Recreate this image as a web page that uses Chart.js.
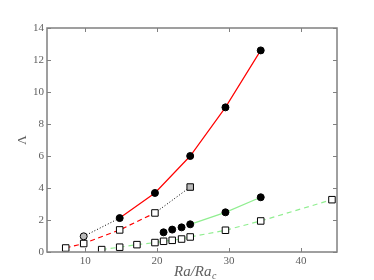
<!DOCTYPE html>
<html>
<head>
<meta charset="utf-8">
<script src="https://cdn.jsdelivr.net/npm/chart.js"></script>
<style>
  html, body { margin: 0; padding: 0; background: #fff; }
  #wrap { width: 374px; height: 280px; }
</style>
</head>
<body>
<div id="wrap"><canvas id="chart" width="374" height="280"></canvas></div>
<script>
// ===== Values =====
const xTicks = [10, 20, 30, 40];
const yTicks = [0, 2, 4, 6, 8, 10, 12, 14];

// red solid line, black circles
const raRedSolid = [14.8, 19.7, 24.6, 29.5, 34.4];
const lamRedSolid = [2.12, 3.69, 6.0, 9.04, 12.6];

// red dashed line, open squares
const raRedDash = [7.3, 9.8, 14.8, 19.7];
const lamRedDash = [0.25, 0.53, 1.38, 2.44];

// black dotted pieces (grey end markers)
const raDotA = [9.8, 14.8];
const lamDotA = [0.98, 2.12];
const raDotB = [19.7, 24.6];
const lamDotB = [2.44, 4.06];

// loose black circles
const raCircles = [20.9, 22.1, 23.4];
const lamCircles = [1.23, 1.4, 1.54];

// green solid line, black circles
const raGreenSolid = [24.6, 29.5, 34.4];
const lamGreenSolid = [1.73, 2.48, 3.42];

// green dashed line, open squares
const raGreenDash = [12.3, 14.8, 17.2, 19.7, 20.9, 22.1, 23.4, 24.6, 29.5, 34.4, 44.3];
const lamGreenDash = [0.15, 0.3, 0.46, 0.59, 0.67, 0.73, 0.81, 0.94, 1.36, 1.94, 3.27];

const pts = (xs, ys) => xs.map((x, i) => ({ x: x, y: ys[i] }));

const FRAME = "#808080";
const TEXT = "#606060";
const SERIF = "'Liberation Serif', 'DejaVu Serif', serif";

// ===== Frame, inward ticks and axis titles =====
const framePlugin = {
    id: "frame",
    afterDraw(chart) {
        const ctx = chart.ctx;
        const a = chart.chartArea;
        const xs = chart.scales.x, ys = chart.scales.y;
        ctx.save();
        ctx.strokeStyle = FRAME;
        ctx.lineWidth = 1.5;
        ctx.strokeRect(a.left, a.top, a.right - a.left, a.bottom - a.top);
        ctx.lineWidth = 1;
        ctx.beginPath();
        xTicks.forEach(v => {
            const px = Math.round(xs.getPixelForValue(v)) + 0.5;
            ctx.moveTo(px, a.bottom); ctx.lineTo(px, a.bottom - 4);
            ctx.moveTo(px, a.top); ctx.lineTo(px, a.top + 4);
        });
        yTicks.forEach(v => {
            const py = Math.round(ys.getPixelForValue(v)) + 0.5;
            ctx.moveTo(a.left, py); ctx.lineTo(a.left + 4, py);
            ctx.moveTo(a.right, py); ctx.lineTo(a.right - 4, py);
        });
        ctx.stroke();

        // x title: Ra/Ra_c
        ctx.fillStyle = TEXT;
        ctx.textBaseline = "alphabetic";
        ctx.font = "italic 15px " + SERIF;
        const main = "Ra/Ra";
        const wMain = ctx.measureText(main).width;
        ctx.font = "italic 10px " + SERIF;
        const wSub = ctx.measureText("c").width;
        const cx = (a.left + a.right) / 2 + 3;
        const x0 = cx - (wMain + wSub) / 2;
        ctx.font = "italic 15px " + SERIF;
        ctx.textAlign = "left";
        ctx.fillText(main, x0, 276);
        ctx.font = "italic 10px " + SERIF;
        ctx.fillText("c", x0 + wMain + 0.5, 278.5);

        // y title: Λ
        ctx.save();
        ctx.translate(26, (a.top + a.bottom) / 2);
        ctx.rotate(-Math.PI / 2);
        ctx.font = "13px " + SERIF;
        ctx.textAlign = "center";
        ctx.fillText("Λ", 0, 0);
        ctx.restore();
        ctx.restore();
    }
};

const lineBase = { showLine: true, borderWidth: 1.2, pointBorderWidth: 1, pointBorderColor: "#000" };

new Chart(document.getElementById("chart").getContext("2d"), {
    type: "scatter",
    data: {
        datasets: [
            Object.assign({}, lineBase, {
                data: pts(raRedSolid, lamRedSolid), borderColor: "#ff0000",
                pointStyle: "circle", pointRadius: 3.5, pointBackgroundColor: "#000", order: 1
            }),
            Object.assign({}, lineBase, {
                data: pts(raGreenSolid, lamGreenSolid), borderColor: "#90ee90",
                pointStyle: "circle", pointRadius: 3.5, pointBackgroundColor: "#000", order: 1
            }),
            Object.assign({}, lineBase, {
                data: pts(raCircles, lamCircles), showLine: false,
                pointStyle: "circle", pointRadius: 3.5, pointBackgroundColor: "#000", order: 1
            }),
            Object.assign({}, lineBase, {
                data: pts(raRedDash, lamRedDash), borderColor: "#ff0000", borderDash: [5, 3.5],
                pointStyle: "rect", pointRadius: 4.6, pointBackgroundColor: "#fff", order: 2
            }),
            Object.assign({}, lineBase, {
                data: pts(raGreenDash, lamGreenDash), borderColor: "#90ee90", borderDash: [5, 4],
                pointStyle: "rect", pointRadius: 4.6, pointBackgroundColor: "#fff", order: 2
            }),
            Object.assign({}, lineBase, {
                data: pts(raDotA, lamDotA), borderColor: "#000", borderWidth: 1, borderDash: [1, 2],
                pointStyle: "circle", pointRadius: [3.5, 0], pointBackgroundColor: "#bbbbbb", order: 3
            }),
            Object.assign({}, lineBase, {
                data: pts(raDotB, lamDotB), borderColor: "#000", borderWidth: 1, borderDash: [1, 2],
                pointStyle: "rect", pointRadius: [0, 4.6], pointBackgroundColor: "#bbbbbb", order: 3
            })
        ]
    },
    options: {
        responsive: false,
        animation: false,
        layout: { padding: { top: 28, right: 37, left: 0, bottom: 0 } },
        plugins: { legend: { display: false }, tooltip: { enabled: false } },
        scales: {
            x: {
                type: "linear", min: 4.7, max: 45,
                grid: { display: false, drawTicks: false },
                border: { display: false },
                afterBuildTicks: s => { s.ticks = xTicks.map(v => ({ value: v })); },
                afterFit: s => { s.height = 28; },
                ticks: { color: TEXT, font: { family: SERIF, size: 11 }, padding: 3, maxRotation: 0 }
            },
            y: {
                type: "linear", min: 0, max: 14,
                grid: { display: false, drawTicks: false },
                border: { display: false },
                afterBuildTicks: s => { s.ticks = yTicks.map(v => ({ value: v })); },
                afterFit: s => { s.width = 47; },
                ticks: { color: TEXT, font: { family: SERIF, size: 11 }, padding: 3 }
            }
        }
    },
    plugins: [framePlugin]
});
</script>
</body>
</html>
